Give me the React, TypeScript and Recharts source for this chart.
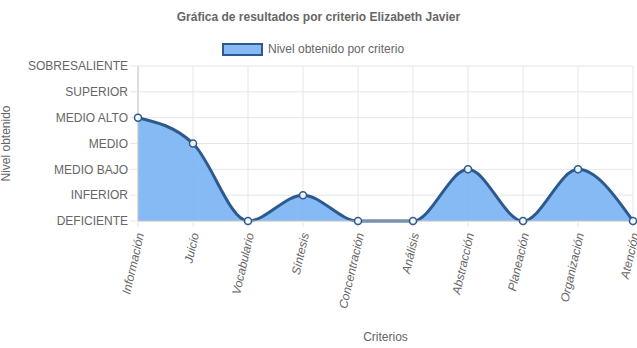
import React from "react";
import {
  AreaChart,
  Area,
  XAxis,
  YAxis,
  CartesianGrid,
} from "recharts";

const criterios = [
  "Información",
  "Juicio",
  "Vocabulario",
  "Síntesis",
  "Concentración",
  "Análisis",
  "Abstracción",
  "Planeación",
  "Organización",
  "Atención",
];

const niveles = [4, 3, 0, 1, 0, 0, 2, 0, 2, 0];

const nivelLabels = [
  "DEFICIENTE",
  "INFERIOR",
  "MEDIO BAJO",
  "MEDIO",
  "MEDIO ALTO",
  "SUPERIOR",
  "SOBRESALIENTE",
];

const data = criterios.map((name, i) => ({ name, nivel: niveles[i] }));

const FONT = "'Liberation Sans', Arial, Helvetica, sans-serif";
const TEXT = "#666";
const GRID = "#e6e6e6";
const FILL = "rgb(120,178,243)";
const LINE = "#2c5a8f";

function RotatedTick(props: any) {
  const { x, y, payload } = props;
  return (
    <text
      x={x + 2}
      y={y + 4}
      transform={`rotate(-77, ${x + 2}, ${y + 4})`}
      textAnchor="end"
      dy="0.35em"
      fontSize={12}
      fontStyle="italic"
      fill={TEXT}
      fontFamily={FONT}
    >
      {payload.value}
    </text>
  );
}

export default function App() {
  return (
    <div
      style={{
        position: "absolute",
        top: 0,
        left: 0,
        width: 637,
        height: 348,
        background: "#fff",
        fontFamily: FONT,
      }}
    >
      <div
        style={{
          position: "absolute",
          top: 10,
          left: 0,
          width: 637,
          textAlign: "center",
          fontSize: 12,
          fontWeight: "bold",
          color: TEXT,
        }}
      >
        Gráfica de resultados por criterio Elizabeth Javier
      </div>
      <div
        style={{
          position: "absolute",
          top: 42,
          left: 222,
          display: "flex",
          alignItems: "center",
          fontSize: 12,
          color: TEXT,
        }}
      >
        <span
          style={{
            display: "inline-block",
            width: 37,
            height: 9,
            background: "#86baf4",
            border: `2px solid ${LINE}`,
            marginRight: 5,
          }}
        />
        Nivel obtenido por criterio
      </div>
      <AreaChart
        width={637}
        height={348}
        data={data}
        margin={{ top: 66, right: 4, bottom: 0, left: 0 }}
      >
        <CartesianGrid stroke={GRID} />
        <XAxis
          dataKey="name"
          interval={0}
          height={127}
          tickSize={6}
          tickLine={{ stroke: GRID }}
          axisLine={{ stroke: "#c8c8c8" }}
          tick={<RotatedTick />}
          label={{
            value: "Criterios",
            position: "insideBottom",
            offset: 7,
            fontSize: 12,
            fill: TEXT,
            fontFamily: FONT,
          }}
        />
        <YAxis
          type="number"
          domain={[0, 6]}
          ticks={[0, 1, 2, 3, 4, 5, 6]}
          width={138}
          tickSize={8}
          tickMargin={2}
          tickLine={{ stroke: GRID }}
          axisLine={{ stroke: "#c8c8c8" }}
          tickFormatter={(v: number) => nivelLabels[v]}
          tick={{ fontSize: 12, fill: TEXT, fontFamily: FONT }}
          label={{
            value: "Nivel obtenido",
            angle: -90,
            position: "insideLeft",
            offset: 6,
            fontSize: 12,
            fill: TEXT,
            fontFamily: FONT,
            style: { textAnchor: "middle" },
          }}
        />
        <Area
          type="monotone"
          dataKey="nivel"
          stroke={LINE}
          strokeWidth={3}
          fill={FILL}
          fillOpacity={0.9}
          dot={{ r: 3.5, fill: "#fff", stroke: LINE, strokeWidth: 1.5 }}
          activeDot={false}
          isAnimationActive={false}
        />
      </AreaChart>
    </div>
  );
}
